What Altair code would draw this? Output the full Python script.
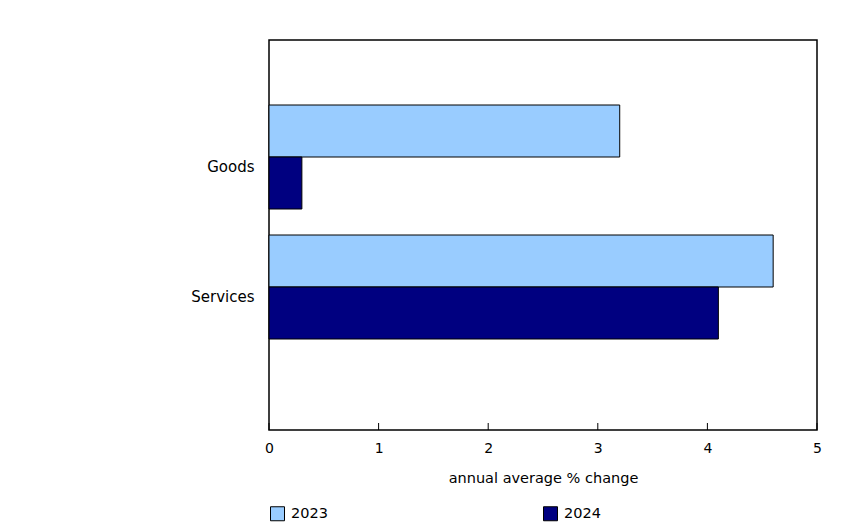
import altair as alt
import pandas as pd

categories = ["Goods", "Services"]
years = ["2023", "2024"]
values_2023 = [3.2, 4.6]
values_2024 = [0.3, 4.1]
x_ticks = [0, 1, 2, 3, 4, 5]
colors = ["#99CCFF", "#000080"]

rows = []
for c, v in zip(categories, values_2023):
    rows.append({"category": c, "year": "2023", "value": v})
for c, v in zip(categories, values_2024):
    rows.append({"category": c, "year": "2024", "value": v})
df = pd.DataFrame(rows)
ticks_df = pd.DataFrame({"t": x_ticks})

FONT = "DejaVu Sans"

x_scale = alt.Scale(domain=[0, 5], nice=False, zero=True)

bars = alt.Chart(df).mark_bar(stroke="black", strokeWidth=1).encode(
    x=alt.X("value:Q", scale=x_scale,
            axis=alt.Axis(title="annual average % change", values=x_ticks, ticks=False,
                          grid=False, domain=False, labelPadding=11, titlePadding=16,
                          labelFlush=False,
                          labelFont=FONT, labelFontSize=14, labelColor="black",
                          titleFont=FONT, titleFontSize=14.5, titleFontWeight="normal",
                          titleColor="black", format="d")),
    y=alt.Y("category:N", sort=categories,
            scale=alt.Scale(range=[65, 299], paddingInner=0.2, paddingOuter=0),
            axis=alt.Axis(title=None, ticks=False, domain=False, labelPadding=15,
                          labelOffset=10, labelFont=FONT, labelFontSize=15,
                          labelColor="black")),
    yOffset=alt.YOffset("year:N", sort=years),
    color=alt.Color("year:N", sort=years,
                    scale=alt.Scale(domain=years, range=colors),
                    legend=alt.Legend(title=None, orient="none", legendX=1, legendY=466,
                                      direction="horizontal", columns=2, columnPadding=213,
                                      symbolType="square", symbolSize=196,
                                      symbolStrokeColor="black", symbolStrokeWidth=1,
                                      labelFont=FONT, labelFontSize=14.5, labelColor="black",
                                      labelOffset=6)),
)

tick_rules = alt.Chart(ticks_df).mark_rule(color="black", strokeWidth=1).encode(
    x=alt.X("t:Q", scale=x_scale),
    y=alt.value(383),
    y2=alt.value(390),
)

chart = alt.layer(bars, tick_rules).properties(
    width=548,
    height=390,
    autosize=alt.AutoSizeParams(type="none"),
    padding={"left": 261, "top": 32, "right": 41, "bottom": 100},
).configure(
    background="white"
).configure_view(
    stroke="black", strokeWidth=1.5
)

chart.save("out.html", embed_options={"renderer": "svg", "actions": False})
